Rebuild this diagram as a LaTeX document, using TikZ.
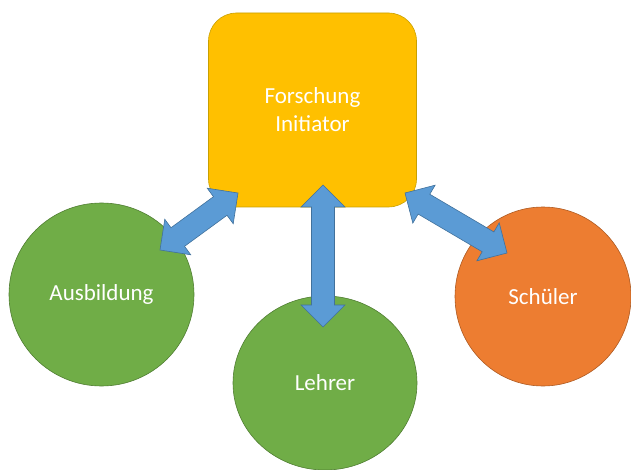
\documentclass[tikz,border=0pt]{standalone}
\usepackage{fontspec}
\setmainfont{Carlito}
\usetikzlibrary{shapes.geometric,calc}
\definecolor{boxfill}{HTML}{FFC000}
\definecolor{boxline}{HTML}{C9A000}
\definecolor{greenfill}{HTML}{70AD47}
\definecolor{greenline}{HTML}{507E32}
\definecolor{orangefill}{HTML}{ED7D31}
\definecolor{orangeline}{HTML}{AE5A21}
\definecolor{arrowfill}{HTML}{5B9BD5}
\definecolor{arrowline}{HTML}{41719C}
\newcommand{\blockarrow}[2]{%
  \draw[blockarr] (#1)
    -- ($(#1)!22pt!(#2)!22pt!90:(#2)$)
    -- ($(#1)!22pt!(#2)!11.5pt!90:(#2)$)
    -- ($(#2)!22pt!(#1)!11.5pt!-90:(#1)$)
    -- ($(#2)!22pt!(#1)!22pt!-90:(#1)$)
    -- (#2)
    -- ($(#2)!22pt!(#1)!22pt!90:(#1)$)
    -- ($(#2)!22pt!(#1)!11.5pt!90:(#1)$)
    -- ($(#1)!22pt!(#2)!11.5pt!-90:(#2)$)
    -- ($(#1)!22pt!(#2)!22pt!-90:(#2)$)
    -- cycle;}
\tikzset{
  labeltext/.style={text=white, font=\fontsize{23}{28}\selectfont, align=center},
  topbox/.style={labeltext, rectangle, rounded corners=28pt, fill=boxfill, draw=boxline, line width=0.6pt, minimum width=208pt, minimum height=194pt, inner sep=0pt},
  greenball/.style={labeltext, ellipse, fill=greenfill, draw=greenline, line width=0.6pt, inner sep=0pt},
  orangeball/.style={labeltext, ellipse, fill=orangefill, draw=orangeline, line width=0.6pt, inner sep=0pt},
  blockarr/.style={fill=arrowfill, draw=arrowline, line width=0.6pt, line join=miter}
}
\begin{document}
\begin{tikzpicture}[x=1pt, y=-1pt]
\useasboundingbox (0,0) rectangle (631,470);
\node[topbox] (fi) at (312.5,110) {Forschung\\Initiator};
\node[greenball, minimum width=185pt, minimum height=183pt] (aus) at (101.5,294.5) {Ausbildung};
\node[greenball, minimum width=184pt, minimum height=174pt] (leh) at (325,383) {Lehrer};
\node[orangeball, minimum width=176pt, minimum height=179pt] (sch) at (543,296.5) {Schüler};
\coordinate (a1) at (238,193);
\coordinate (a2) at (160,250);
\coordinate (l1) at (323,185);
\coordinate (l2) at (323,327);
\coordinate (s1) at (405,193);
\coordinate (s2) at (507,253);
\blockarrow{a1}{a2}
\blockarrow{l1}{l2}
\blockarrow{s1}{s2}
\end{tikzpicture}
\end{document}
